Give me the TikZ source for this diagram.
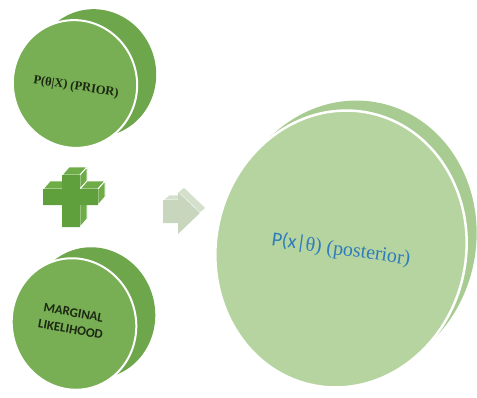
\documentclass[tikz,border=0pt]{standalone}
\usepackage{fontspec}
\setmainfont{Liberation Serif}
\newfontfamily\carlitofont{Carlito}
\definecolor{discfront}{RGB}{120,175,85}
\definecolor{discback}{RGB}{110,166,76}
\definecolor{bigfront}{RGB}{182,212,160}
\definecolor{bigback}{RGB}{168,203,146}
\definecolor{plusfront}{RGB}{96,160,60}
\definecolor{plusside}{RGB}{110,172,72}
\definecolor{arrowfront}{RGB}{200,214,190}
\definecolor{arrowside}{RGB}{212,224,204}
\definecolor{darktext}{RGB}{28,40,18}
\definecolor{bluetext}{RGB}{46,124,186}
\begin{document}
\begin{tikzpicture}[x=1pt,y=-1pt,
  backdisc/.style={fill=discback,draw=none},
  frontdisc/.style={fill=discfront,draw=white,line width=2pt},
  bigbackdisc/.style={fill=bigback,draw=none},
  bigfrontdisc/.style={fill=bigfront,draw=white,line width=2.5pt},
  plusface/.style={fill=plusside,draw=white,line width=0.9pt,line join=round},
  arrowface/.style={fill=arrowside,draw=white,line width=0.9pt,line join=round},
  label/.style={inner sep=0pt,align=center}]
\useasboundingbox (0,0) rectangle (477,397);
% top disc (prior)
\coordinate (p0) at (75,84);
\coordinate (p1) at (95,73);
\fill[backdisc,rotate around={15:(p1)}] (p1) ellipse [x radius=61,y radius=64];
\draw[frontdisc,rotate around={15:(p0)}] (p0) ellipse [x radius=62,y radius=64];
\node[label,rotate=-9,text=darktext,font=\bfseries\fontsize{12.5}{14}\selectfont] (prior) at (76,87) {P(θ|X) (PRIOR)};
% bottom disc (marginal likelihood)
\coordinate (m0) at (74,324);
\coordinate (m1) at (93,313);
\fill[backdisc,rotate around={15:(m1)}] (m1) ellipse [x radius=62,y radius=66];
\draw[frontdisc,rotate around={15:(m0)}] (m0) ellipse [x radius=62,y radius=66];
\node[label,rotate=-10,text=darktext,font=\carlitofont\bfseries\fontsize{13}{17}\selectfont] (marg) at (72,321) {MARGINAL\\LIKELIHOOD};
% big disc (posterior)
\coordinate (b0) at (341,249);
\coordinate (b1) at (351,239);
\fill[bigbackdisc,rotate around={-12:(b1)}] (b1) ellipse [x radius=125,y radius=139];
\draw[bigfrontdisc,rotate around={-12:(b0)}] (b0) ellipse [x radius=125,y radius=139];
\node[label,rotate=-8,text=bluetext,font=\fontsize{20}{24}\selectfont] (post) at (341,250) {{\carlitofont P(x|}θ) (posterior)};
% plus sign
\fill[plusface] (62,175) -- (80,175) -- (87,167) -- (69,167) -- cycle;
\fill[plusface] (43,189) -- (62,189) -- (69,181) -- (50,181) -- cycle;
\fill[plusface] (80,175) -- (80,189) -- (87,181) -- (87,167) -- cycle;
\fill[plusface] (80,189) -- (98,189) -- (105,181) -- (87,181) -- cycle;
\fill[plusface] (98,189) -- (98,205) -- (105,197) -- (105,181) -- cycle;
\fill[plusface] (80,205) -- (80,227) -- (87,219) -- (87,197) -- cycle;
\draw[plusface] (62,175) -- (80,175) -- (87,167) -- (69,167) -- cycle;
\draw[plusface] (43,189) -- (62,189) -- (69,181) -- (50,181) -- cycle;
\draw[plusface] (80,175) -- (80,189) -- (87,181) -- (87,167) -- cycle;
\draw[plusface] (80,189) -- (98,189) -- (105,181) -- (87,181) -- cycle;
\draw[plusface] (98,189) -- (98,205) -- (105,197) -- (105,181) -- cycle;
\draw[plusface] (80,205) -- (80,227) -- (87,219) -- (87,197) -- cycle;
\fill[plusfront] (62,175) -- (80,175) -- (80,189) -- (98,189) -- (98,205) -- (80,205)
  -- (80,227) -- (62,227) -- (62,205) -- (43,205) -- (43,189) -- (62,189) -- cycle;
% arrow
\draw[arrowface] (163,200) -- (169,195) -- (184,195) -- (178,200) -- cycle;
\draw[arrowface] (178,192) -- (184,187) -- (206,208) -- (200,213) -- cycle;
\fill[arrowfront] (163,200) -- (178,200) -- (178,192) -- (200,213) -- (178,234)
  -- (178,223) -- (163,223) -- cycle;
\end{tikzpicture}
\end{document}
